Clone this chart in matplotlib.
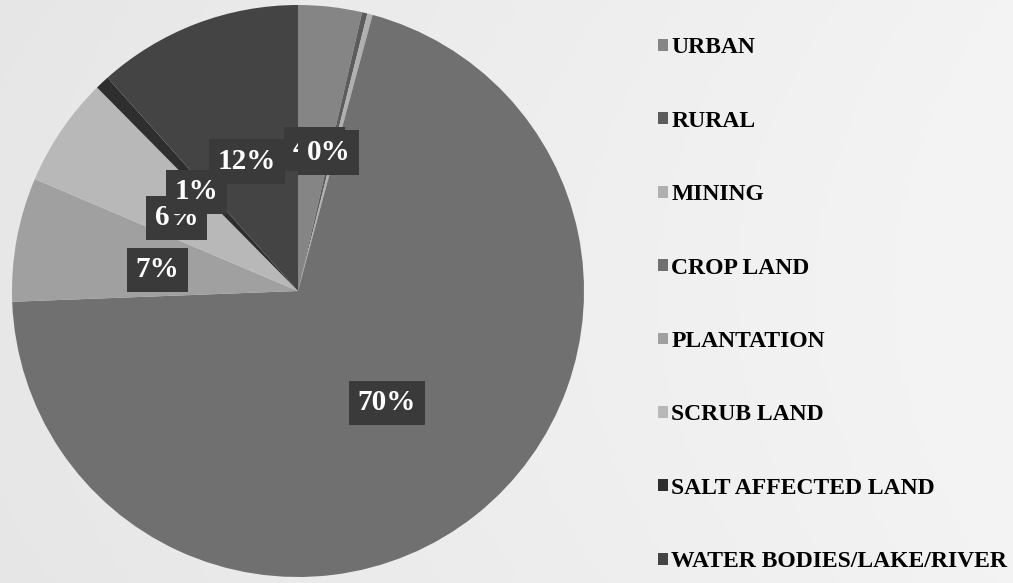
import matplotlib.pyplot as plt
import numpy as np

categories = ['URBAN', 'RURAL', 'MINING', 'CROP LAND', 'PLANTATION',
              'SCRUB LAND', 'SALT AFFECTED LAND', 'WATER BODIES/LAKE/RIVER']
shares = [3.6, 0.3, 0.3, 70.2, 7.0, 6.2, 0.8, 11.6]
colours = ['#858585', '#5c5c5c', '#b0b0b0', '#707070', '#a0a0a0',
           '#b8b8b8', '#2e2e2e', '#444444']

# label nudges (fraction of radius) for the crowded thin slices
nudge = {1: (-0.01, 0.0), 2: (-0.02, 0.0), 4: (0.0, -0.017), 5: (-0.01, -0.025),
         6: (-0.012, -0.018), 7: (0.0, -0.014)}
# drawing order of the value labels (later ones sit on top)
label_order = [0, 1, 2, 3, 4, 5, 7, 6]

fig = plt.figure(figsize=(10.13, 5.83), dpi=100)

# soft grey backdrop, a bit lighter towards the right
bg = fig.add_axes([0, 0, 1, 1], zorder=-1)
gx, gy = np.meshgrid(np.linspace(0, 1, 200), np.linspace(0, 1, 120))
shade = 0.905 + 0.05 * gx - 0.02 * (gy - 0.5) ** 2
bg.imshow(shade, cmap='gray', vmin=0, vmax=1, aspect='auto', extent=[0, 1, 0, 1])
bg.axis('off')

ax = fig.add_axes([12 / 1013, 6 / 583, 572 / 1013, 572 / 583])
wedges, _ = ax.pie(shares, colors=colours, startangle=90, counterclock=False,
                   radius=1, wedgeprops=dict(linewidth=0))
ax.set_xlim(-1, 1)
ax.set_ylim(-1, 1)

total = sum(shares)
for z, i in enumerate(label_order):
    w = wedges[i]
    mid = np.deg2rad((w.theta1 + w.theta2) / 2)
    dx, dy = nudge.get(i, (0.0, 0.0))
    x = 0.5 * np.cos(mid) + dx
    y = 0.5 * np.sin(mid) + dy
    ax.text(x, y, f'{shares[i] / total * 100:.0f}%', ha='center', va='center',
            color='white', fontsize=21, fontweight='bold', family='Liberation Serif',
            zorder=5 + z,
            bbox=dict(boxstyle='square,pad=0.3', fc='#3a3a3a', ec='none'))

fig.legend(wedges, categories, loc='upper left', bbox_to_anchor=(637 / 1013, 1 - 16 / 583),
           frameon=False, handlelength=0.4, handleheight=0.4, handletextpad=0.15,
           labelspacing=2.22, prop=dict(family='Liberation Serif', weight='bold', size=17))

plt.savefig('out.png', dpi=100)
